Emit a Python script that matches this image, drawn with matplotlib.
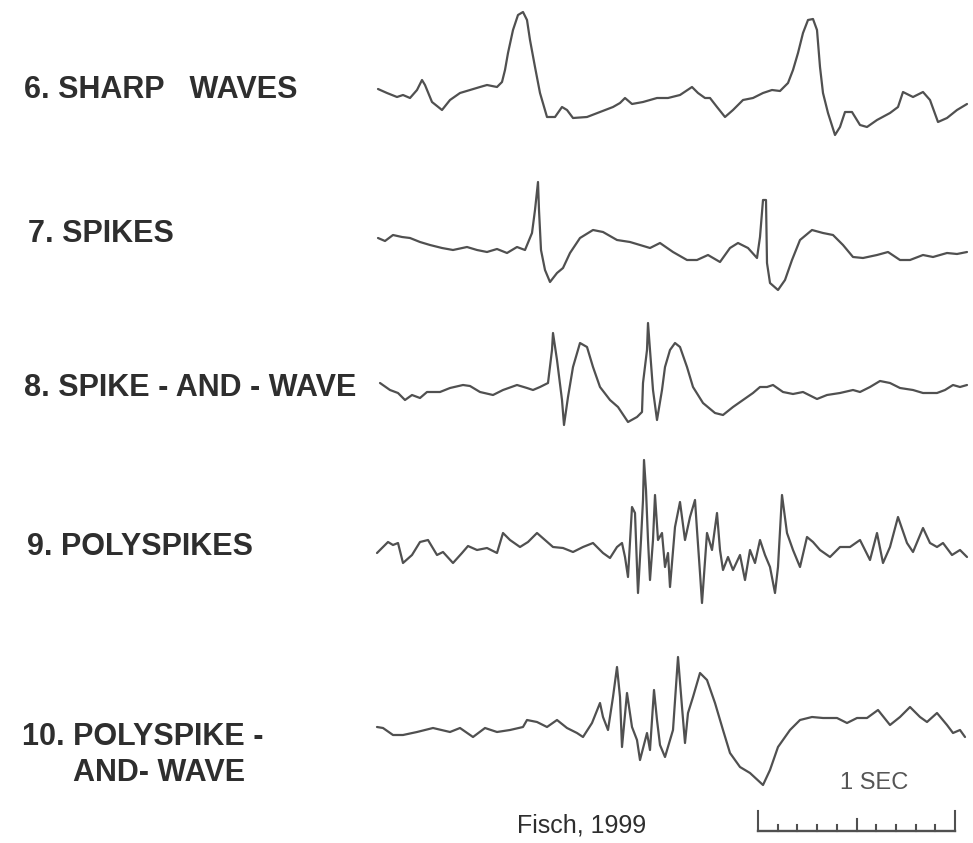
import matplotlib
matplotlib.use("Agg")
from matplotlib import pyplot as plt

plt.rcParams['font.family'] = ['Liberation Sans', 'DejaVu Sans']

# trace labels (one entry per text line) and trace baselines (canvas units, y grows downwards)
labels = ["6. SHARP   WAVES", "7. SPIKES", "8. SPIKE - AND - WAVE",
          "9. POLYSPIKES", "10. POLYSPIKE -", "AND- WAVE"]
baselines = [97, 245, 390, 548, 728]

# sample positions (time, canvas units) and amplitudes (up = positive)
sharp_t = [378, 387, 397, 403, 410, 417, 422, 425, 432, 442, 450, 460, 470, 480, 487,
           497, 502, 505, 508, 513, 518, 523, 527, 530, 535, 540, 547, 555, 562, 567,
           573, 587, 600, 613, 620, 625, 632, 643, 657, 668, 680, 692, 698, 705, 710,
           717, 725, 733, 743, 753, 763, 772, 780, 788, 793, 798, 803, 808, 813, 817,
           820, 823, 828, 835, 840, 845, 852, 860, 867, 877, 890, 898, 903, 913, 923,
           930, 938, 947, 957, 967]
sharp_v = [8, 4, 0, 2, -1, 7, 17, 12, -5, -13, -3, 4, 7, 10, 12,
           10, 15, 27, 44, 67, 82, 85, 77, 57, 30, 4, -20, -20, -10, -13,
           -21, -20, -15, -10, -6, -1, -7, -5, -1, -1, 2, 10, 4, -1, -1,
           -10, -20, -13, -3, -1, 4, 7, 6, 14, 27, 44, 64, 77, 78, 67,
           30, 4, -16, -38, -30, -15, -15, -28, -30, -23, -16, -10, 5, 0, 5,
           -3, -25, -21, -13, -7]

spike_t = [378, 385, 393, 402, 410, 420, 430, 442, 453, 467, 477, 487, 497, 507, 517,
           525, 532, 535, 538, 539, 541, 545, 550, 557, 563, 570, 580, 593, 603, 617,
           630, 640, 650, 660, 673, 687, 697, 708, 720, 730, 738, 748, 757, 760, 763,
           766, 767, 770, 778, 785, 792, 800, 812, 823, 833, 843, 853, 863, 877, 888,
           900, 910, 923, 933, 947, 957, 967]
spike_v = [7, 4, 10, 8, 7, 3, 0, -3, -5, -2, -5, -7, -4, -8, -2,
           -5, 12, 35, 63, 35, -5, -25, -37, -28, -23, -8, 7, 15, 13, 5,
           3, 0, -3, 2, -7, -15, -15, -10, -17, -3, 2, -3, -13, 8, 45,
           45, -18, -38, -45, -35, -15, 5, 15, 12, 10, 0, -12, -13, -10, -7,
           -15, -15, -10, -12, -8, -9, -7]

sw_t = [380, 390, 398, 405, 412, 420, 427, 440, 450, 463, 470, 480, 493, 503, 517,
        527, 533, 540, 548, 552, 553, 557, 562, 564, 568, 573, 580, 587, 593, 600,
        610, 618, 628, 637, 642, 643, 647, 648, 650, 653, 657, 662, 665, 670, 675,
        680, 687, 693, 703, 715, 723, 733, 743, 753, 760, 767, 773, 783, 793, 803,
        817, 827, 840, 853, 860, 870, 880, 890, 900, 913, 923, 937, 945, 953, 960,
        967]
sw_v = [7, 0, -3, -10, -5, -8, -2, -2, 2, 5, 4, -2, -5, 0, 5,
        2, 0, 3, 7, 40, 57, 30, -10, -35, -7, 23, 47, 43, 23, 3,
        -10, -17, -32, -27, -22, 7, 40, 67, 40, 0, -30, 0, 23, 40, 47,
        43, 23, 3, -13, -23, -25, -17, -10, -3, 3, 3, 5, -2, -4, -2,
        -9, -5, -3, 0, -2, 3, 9, 7, 2, 0, -3, -3, 0, 5, 3,
        5]

poly_t = [377, 383, 388, 393, 398, 403, 412, 420, 428, 437, 443, 453, 462, 468, 477,
          487, 497, 503, 510, 520, 528, 537, 545, 553, 563, 573, 583, 593, 603, 610,
          617, 622, 625, 628, 632, 635, 637, 638, 641, 643, 644, 646, 648, 650, 653,
          655, 658, 662, 665, 668, 670, 675, 680, 685, 690, 695, 697, 700, 702, 707,
          712, 717, 720, 723, 728, 733, 740, 745, 750, 755, 760, 765, 770, 775, 778,
          782, 787, 793, 800, 807, 813, 820, 830, 840, 850, 860, 870, 877, 883, 890,
          898, 907, 913, 923, 930, 937, 943, 952, 960, 967]
poly_v = [-5, 1, 6, 3, 5, -15, -7, 6, 8, -7, -4, -15, -5, 2, -2,
          0, -5, 15, 8, 1, 6, 15, 8, 1, 0, -4, 1, 5, -5, -10,
          1, 5, -9, -29, 41, 35, -19, -45, 8, 48, 88, 58, 8, -32, 8,
          53, 8, 15, -19, -5, -39, 21, 46, 8, 31, 48, 18, -25, -55, 15,
          -2, 35, -2, -22, -9, -22, -7, -32, -2, -15, 8, -7, -19, -45, -19,
          53, 15, -2, -19, 11, 6, -2, -9, 1, 1, 8, -12, 15, -15, 1,
          31, 5, -4, 20, 5, 1, 5, -7, -2, -9]

psw_t = [377, 383, 393, 403, 417, 433, 450, 460, 473, 485, 497, 510, 523, 527, 537,
         547, 557, 567, 577, 583, 592, 600, 603, 608, 613, 617, 620, 622, 627, 632,
         637, 640, 647, 650, 654, 657, 660, 665, 673, 678, 682, 685, 688, 693, 700,
         707, 715, 723, 730, 740, 750, 763, 770, 778, 790, 800, 812, 823, 837, 847,
         857, 867, 878, 890, 900, 910, 920, 927, 937, 947, 953, 960, 965]
psw_v = [1, 0, -7, -7, -4, 0, -4, 0, -9, 0, -4, -2, 1, 8, 6,
         1, 8, 0, -5, -9, 5, 25, 11, -2, 31, 61, 31, -19, 35, 1,
         -12, -32, -5, -22, 38, 8, -17, -29, -2, 71, 21, -15, 15, 31, 55,
         48, 25, -2, -25, -39, -45, -57, -42, -19, -2, 8, 11, 10, 10, 5,
         10, 10, 18, 3, 11, 21, 11, 6, 15, 3, -5, -2, -9]

traces = [(sharp_t, sharp_v), (spike_t, spike_v), (sw_t, sw_v),
          (poly_t, poly_v), (psw_t, psw_v)]

# 1 second calibration bar, ticks every 0.1 s
sec_ticks = [0.0, 0.1, 0.2, 0.3, 0.4, 0.5, 0.6, 0.7, 0.8, 0.9, 1.0]
sec_len = 197
bar_x0, bar_y = 758, 831

fig = plt.figure(figsize=(9.73, 8.43), dpi=100)
ax = fig.add_axes([0, 0, 1, 1])
ax.set_xlim(0, 973)
ax.set_ylim(843, 0)
ax.axis('off')

trace_col = '#505050'
text_col = '#2e2e2e'

for (t, v), base in zip(traces, baselines):
    ax.plot(t, [base - a for a in v], color=trace_col, lw=1.6,
            solid_joinstyle='round', solid_capstyle='round')

label_x = [24, 28, 24, 27, 22, 73]
label_y = [90, 234, 388, 547, 737, 773]
for lab, lx, ly in zip(labels, label_x, label_y):
    ax.text(lx, ly, lab, fontsize=22, fontweight='bold', color=text_col,
            ha='left', va='center')

# calibration bar
ax.plot([bar_x0, bar_x0 + sec_len], [bar_y, bar_y], color=trace_col, lw=1.7)
for s in sec_ticks:
    h = 20 if s in (0.0, 1.0) else (12 if s == 0.5 else 6)
    xx = bar_x0 + s * sec_len
    ax.plot([xx, xx], [bar_y, bar_y - h], color=trace_col, lw=1.5)
ax.text(874, 783, "1 SEC", fontsize=17, color='#555555', ha='center', va='center')
ax.text(582, 826, "Fisch, 1999", fontsize=18, color=text_col, ha='center', va='center')

fig.savefig("out.png", dpi=100)
